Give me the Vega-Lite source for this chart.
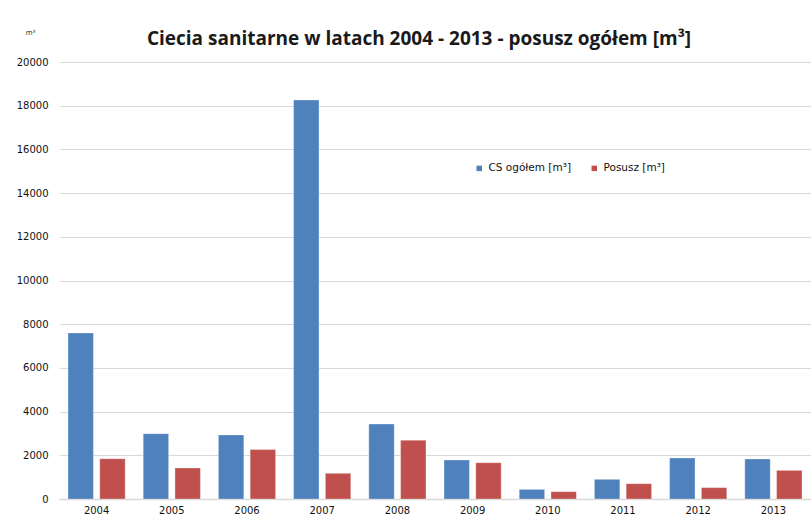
{
  "$schema": "https://vega.github.io/schema/vega-lite/v6.json",
  "width": 752,
  "height": 437,
  "autosize": {"type": "none"},
  "padding": {"left": 59, "top": 62, "right": 0, "bottom": 22},
  "background": "white",
  "title": {
    "text": "Ciecia sanitarne w latach 2004 - 2013 - posusz ogółem [m³]",
    "font": "Open Sans",
    "fontSize": 19,
    "fontWeight": "bold",
    "color": "#1a1a1a",
    "anchor": "middle",
    "dx": -16,
    "offset": -21
  },
  "data": {
    "values": [
      {"rok": "2004", "seria": "CS ogółem [m³]", "wartosc": 7600},
      {"rok": "2004", "seria": "Posusz [m³]", "wartosc": 1845},
      {"rok": "2005", "seria": "CS ogółem [m³]", "wartosc": 2990},
      {"rok": "2005", "seria": "Posusz [m³]", "wartosc": 1420},
      {"rok": "2006", "seria": "CS ogółem [m³]", "wartosc": 2930},
      {"rok": "2006", "seria": "Posusz [m³]", "wartosc": 2260},
      {"rok": "2007", "seria": "CS ogółem [m³]", "wartosc": 18260},
      {"rok": "2007", "seria": "Posusz [m³]", "wartosc": 1175},
      {"rok": "2008", "seria": "CS ogółem [m³]", "wartosc": 3430},
      {"rok": "2008", "seria": "Posusz [m³]", "wartosc": 2690},
      {"rok": "2009", "seria": "CS ogółem [m³]", "wartosc": 1785},
      {"rok": "2009", "seria": "Posusz [m³]", "wartosc": 1660},
      {"rok": "2010", "seria": "CS ogółem [m³]", "wartosc": 440},
      {"rok": "2010", "seria": "Posusz [m³]", "wartosc": 335},
      {"rok": "2011", "seria": "CS ogółem [m³]", "wartosc": 900},
      {"rok": "2011", "seria": "Posusz [m³]", "wartosc": 700},
      {"rok": "2012", "seria": "CS ogółem [m³]", "wartosc": 1875},
      {"rok": "2012", "seria": "Posusz [m³]", "wartosc": 520},
      {"rok": "2013", "seria": "CS ogółem [m³]", "wartosc": 1830},
      {"rok": "2013", "seria": "Posusz [m³]", "wartosc": 1310}
    ]
  },
  "mark": {"type": "bar", "stroke": "#ffffff", "strokeOpacity": 0.6, "strokeWidth": 0.5},
  "encoding": {
    "x": {
      "field": "rok",
      "type": "nominal",
      "scale": {"paddingInner": 0.24, "paddingOuter": 0.12},
      "axis": {
        "title": null,
        "labelAngle": 0,
        "ticks": false,
        "domainColor": "#d9d9d9",
        "domainWidth": 1.5,
        "labelFont": "DejaVu Sans",
        "labelFontSize": 10,
        "labelColor": "#111111",
        "labelPadding": 6
      }
    },
    "xOffset": {
      "field": "seria",
      "type": "nominal",
      "sort": ["CS ogółem [m³]", "Posusz [m³]"],
      "scale": {"paddingInner": 0.2}
    },
    "y": {
      "field": "wartosc",
      "type": "quantitative",
      "scale": {"domain": [0, 20000], "nice": false},
      "axis": {
        "values": [0, 2000, 4000, 6000, 8000, 10000, 12000, 14000, 16000, 18000, 20000],
        "format": "d",
        "title": "m³",
        "titleAngle": 0,
        "titleX": -29,
        "titleY": -27,
        "titleFont": "DejaVu Sans",
        "titleFontSize": 7,
        "titleFontWeight": "normal",
        "titleColor": "#333333",
        "domain": false,
        "ticks": false,
        "labelFont": "DejaVu Sans",
        "labelFontSize": 10,
        "labelColor": "#111111",
        "labelPadding": 11,
        "gridColor": "#d9d9d9",
        "gridWidth": 1.2
      }
    },
    "color": {
      "field": "seria",
      "type": "nominal",
      "sort": ["CS ogółem [m³]", "Posusz [m³]"],
      "scale": {"range": ["#4F81BD", "#C0504D"]},
      "legend": {
        "title": null,
        "orient": "none",
        "direction": "horizontal",
        "legendX": 415,
        "legendY": 101,
        "symbolType": "square",
        "symbolSize": 30,
        "symbolStrokeWidth": 0,
        "labelFont": "DejaVu Sans",
        "labelFontSize": 10.5,
        "labelColor": "#111111",
        "columnPadding": 18,
        "labelOffset": 4
      }
    }
  },
  "config": {
    "view": {"stroke": null}
  }
}
